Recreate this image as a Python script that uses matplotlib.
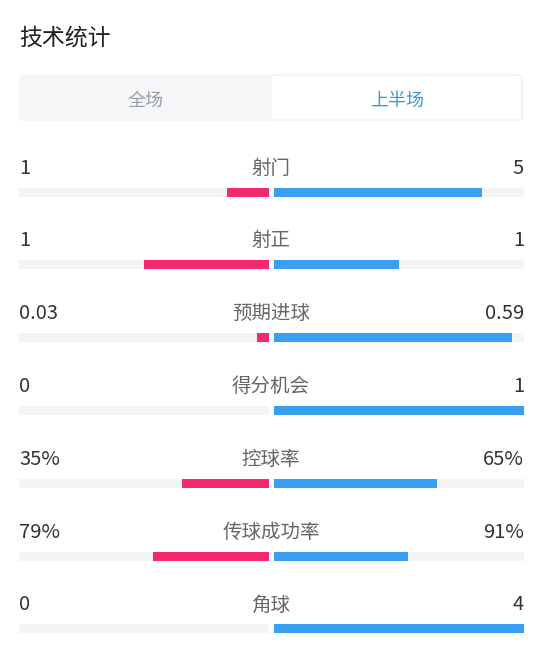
import matplotlib
matplotlib.use("Agg")
import matplotlib.pyplot as plt
from matplotlib.patches import FancyBboxPatch

plt.rcParams['font.family'] = ['Noto Sans CJK SC', 'DejaVu Sans']

title = "技术统计"
tabs = ["全场", "上半场"]
categories = ["射门", "射正", "预期进球", "得分机会", "控球率", "传球成功率", "角球"]
home_values = [1, 1, 0.03, 0, 35, 79, 0]
away_values = [5, 1, 0.59, 1, 65, 91, 4]
home_labels = ["1", "1", "0.03", "0", "35%", "79%", "0"]
away_labels = ["5", "1", "0.59", "1", "65%", "91%", "4"]

HOME_COLOR = "#f52a6e"
AWAY_COLOR = "#399ff3"
TRACK_COLOR = "#f4f4f5"

W, H = 543, 656
fig = plt.figure(figsize=(W / 100, H / 100), dpi=100)
ax = fig.add_axes([0, 0, 1, 1])
ax.set_xlim(0, W)
ax.set_ylim(H, 0)
ax.axis("off")

# title
ax.text(19, 38, title, fontsize=16.5, color="#222222", fontweight="medium",
        ha="left", va="center")

# tab box
ax.add_patch(FancyBboxPatch((19, 74), 504, 47, boxstyle="round,pad=0,rounding_size=5",
                            facecolor="#f5f6f8", edgecolor="none"))
ax.add_patch(FancyBboxPatch((271, 75), 251, 45, boxstyle="round,pad=0,rounding_size=4",
                            facecolor="#ffffff", edgecolor="#eef0f3", linewidth=0.8))
ax.text(146, 101, tabs[0], fontsize=13, color="#9a9ca6", ha="center", va="center")
ax.text(397, 101, tabs[1], fontsize=13, color="#3b98d6", ha="center", va="center")

row0_label_y = 168
row_step = 72.8
bar_offset = 24
bar_h = 9
left_end = 269
right_start = 274
track_w = 250

for i, cat in enumerate(categories):
    ly = row0_label_y + i * row_step
    by = ly + bar_offset
    ax.text(19, ly, home_labels[i], fontsize=14.5, color="#333333", ha="left", va="center")
    ax.text(524, ly, away_labels[i], fontsize=14.5, color="#333333", ha="right", va="center")
    ax.text(271, ly, cat, fontsize=14, color="#666666", ha="center", va="center")
    total = home_values[i] + away_values[i]
    hf = home_values[i] / total if total else 0
    af = away_values[i] / total if total else 0
    # tracks
    ax.barh(by, track_w, left=left_end - track_w, height=bar_h, color=TRACK_COLOR, linewidth=0)
    ax.barh(by, track_w, left=right_start, height=bar_h, color=TRACK_COLOR, linewidth=0)
    # values
    hw = hf * track_w
    aw = af * track_w
    if hw > 0:
        ax.barh(by, hw, left=left_end - hw, height=bar_h, color=HOME_COLOR, linewidth=0)
    if aw > 0:
        ax.barh(by, aw, left=right_start, height=bar_h, color=AWAY_COLOR, linewidth=0)

fig.savefig("out.png", dpi=100, facecolor="white")
